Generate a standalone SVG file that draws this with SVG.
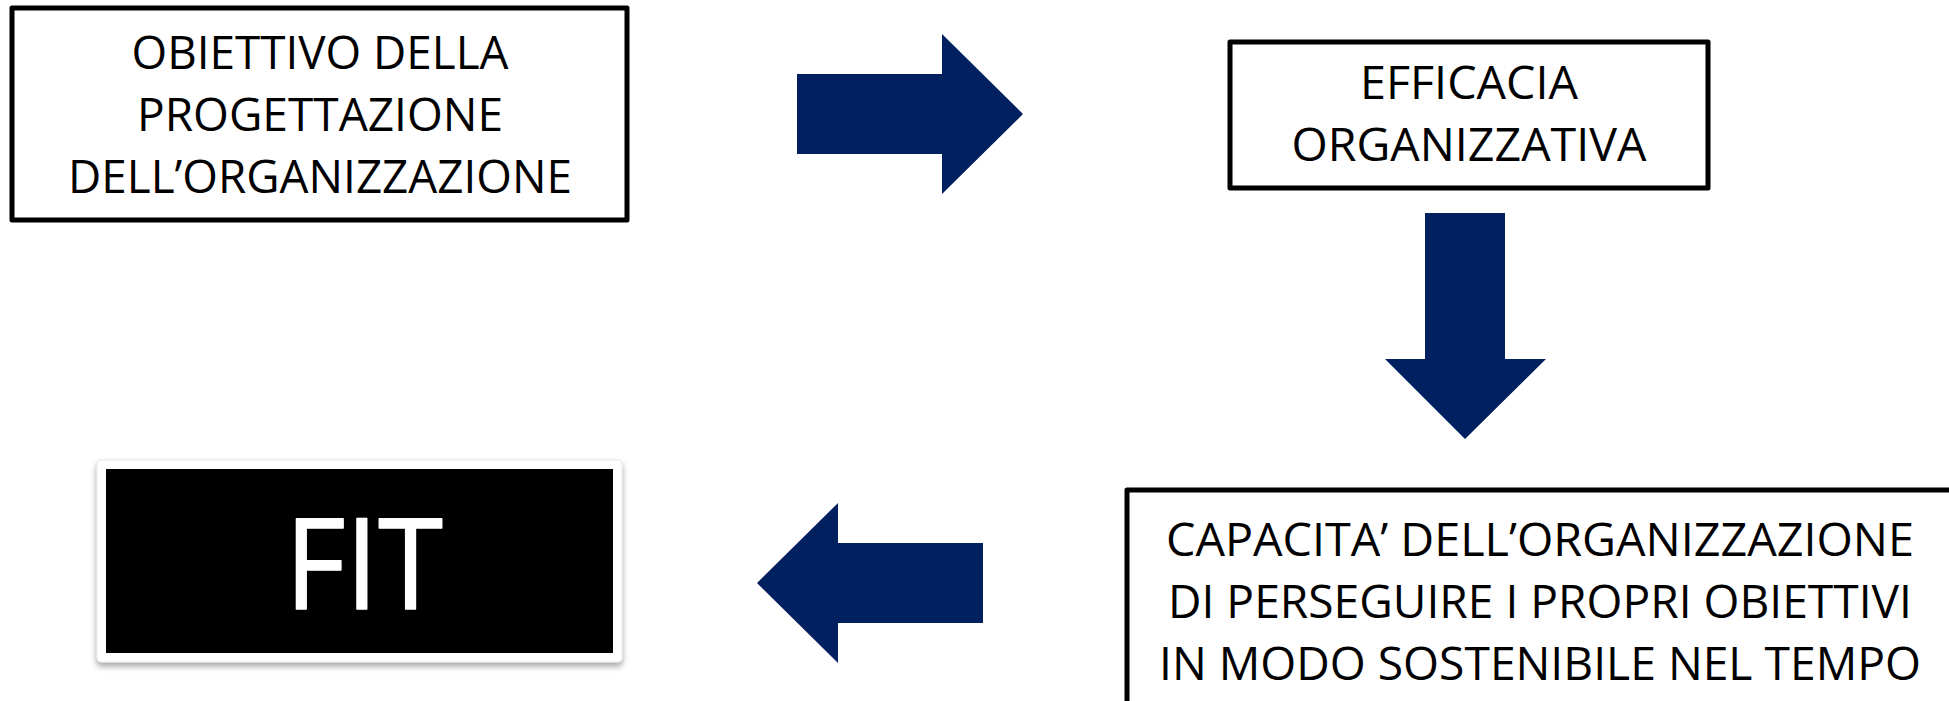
<svg xmlns="http://www.w3.org/2000/svg" width="1949" height="701" viewBox="0 0 1949 701">
<defs>
<style>
.box{fill:#ffffff;stroke:#000000;stroke-width:5;stroke-linejoin:round}
.lbl{font-family:"Open Sans","Liberation Sans",sans-serif;font-size:46px;fill:#000000;text-anchor:middle}
.arrow{fill:#002060}
.fit{font-family:"Open Sans","Liberation Sans",sans-serif;font-size:126px;fill:#ffffff;stroke:#ffffff;stroke-width:1.5;stroke-linejoin:round;text-anchor:middle}
</style>
<filter id="shadow" x="-10%" y="-20%" width="120%" height="150%">
<feDropShadow dx="0" dy="4" stdDeviation="3" flood-color="#000000" flood-opacity="0.35"/>
</filter>
</defs>
<rect width="1949" height="701" fill="#ffffff"/>
<g id="connectors">
<path class="arrow" d="M797,74 L942,74 L942,34 L1023,114 L942,194 L942,154 L797,154 Z"/>
<path class="arrow" d="M1425,213 L1505,213 L1505,359 L1546,359 L1465,439 L1385,359 L1425,359 Z"/>
<path class="arrow" d="M983,543 L838,543 L838,503 L757,583 L838,663 L838,623 L983,623 Z"/>
</g>
<g id="node-obiettivo">
<rect class="box" x="12" y="8" width="615" height="212"/>
<text class="lbl" x="320" y="69" textLength="377" lengthAdjust="spacingAndGlyphs">OBIETTIVO DELLA</text>
<text class="lbl" x="320" y="131" textLength="366" lengthAdjust="spacingAndGlyphs">PROGETTAZIONE</text>
<text class="lbl" x="320" y="193" textLength="504" lengthAdjust="spacingAndGlyphs">DELL’ORGANIZZAZIONE</text>
</g>
<g id="node-efficacia">
<rect class="box" x="1230" y="42" width="478" height="146"/>
<text class="lbl" x="1469" y="99" textLength="218" lengthAdjust="spacingAndGlyphs">EFFICACIA</text>
<text class="lbl" x="1469" y="161" textLength="355" lengthAdjust="spacingAndGlyphs">ORGANIZZATIVA</text>
</g>
<g id="node-capacita">
<rect class="box" x="1127" y="490" width="900" height="300"/>
<text class="lbl" x="1540" y="556" textLength="748" lengthAdjust="spacingAndGlyphs">CAPACITA’ DELL’ORGANIZZAZIONE</text>
<text class="lbl" x="1540" y="618" textLength="744" lengthAdjust="spacingAndGlyphs">DI PERSEGUIRE I PROPRI OBIETTIVI</text>
<text class="lbl" x="1540" y="680" textLength="762" lengthAdjust="spacingAndGlyphs">IN MODO SOSTENIBILE NEL TEMPO</text>
</g>
<g id="node-fit">
<rect x="97" y="460" width="525" height="202" rx="4" fill="#ffffff" stroke="#e6e6e6" stroke-width="1" filter="url(#shadow)"/>
<rect x="106" y="469" width="507" height="184" fill="#000000"/>
<text class="fit" x="364" y="609" textLength="158" lengthAdjust="spacingAndGlyphs">FIT</text>
</g>
</svg>
